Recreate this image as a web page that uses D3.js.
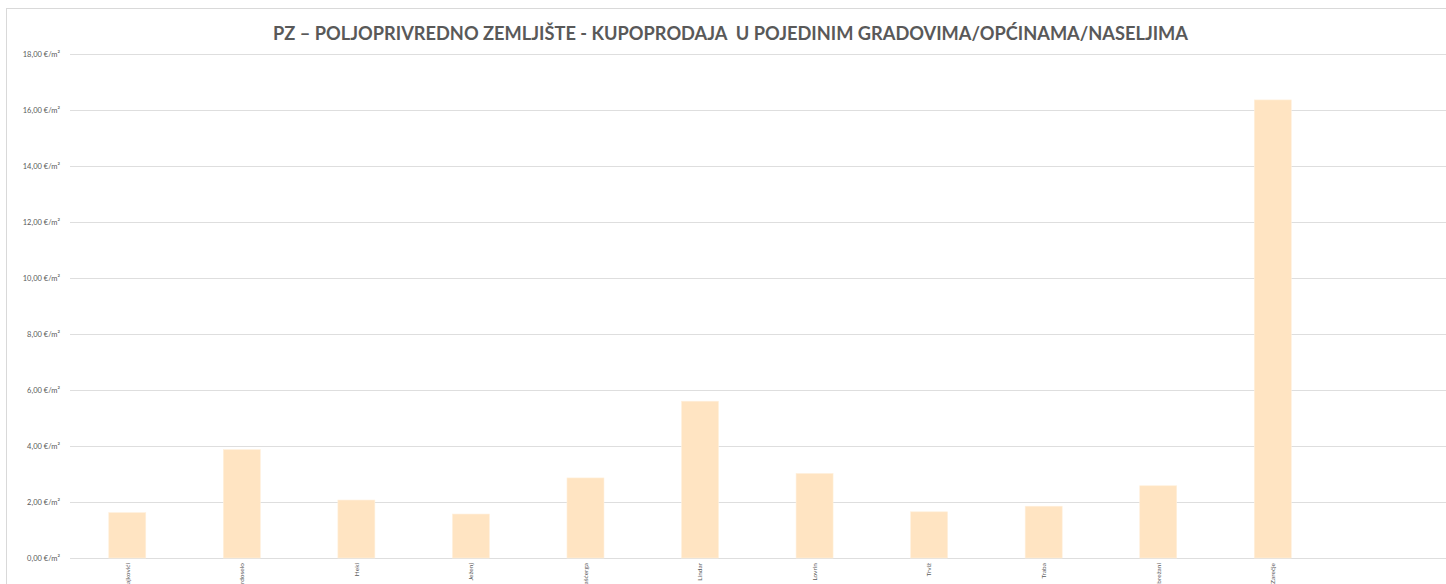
<!DOCTYPE html>
<html>
<head>
<meta charset="utf-8">
<script src="https://cdn.jsdelivr.net/npm/d3@7"></script>
<style>
  html, body { margin: 0; padding: 0; background: #fff; }
  svg { display: block; font-family: Lato, "Open Sans", "Liberation Sans", sans-serif; }
</style>
</head>
<body>
<svg id="chart" width="1446" height="584"></svg>
<script>
// settlements around Pazin (labels are cut by the bottom edge, as in the source)
const places = ['Brajkovići', 'Grdoselo', 'Heki', 'Ježenj', 'Kašćerga', 'Lindar',
                'Lovrin', 'Trviž', 'Traba', 'Zabrežani', 'Zarečje'];
// average price, €/m²
const prices = [1.62, 3.87, 2.07, 1.57, 2.86, 5.60, 3.02, 1.65, 1.85, 2.58, 16.36];
const yTicks = [0, 2, 4, 6, 8, 10, 12, 14, 16, 18];
const title = 'PZ – POLJOPRIVREDNO ZEMLJIŠTE - KUPOPRODAJA  U POJEDINIM GRADOVIMA/OPĆINAMA/NASELJIMA';

let svg = d3.select('#chart');
let W = 1446, H = 584;
let plot = { left: 70, top: 54, bottom: 558, step: 114.55 };

// outer chart frame (right and bottom edges fall outside the picture)
svg.append('rect')
    .attr('x', 6.5).attr('y', 8.5)
    .attr('width', 1460).attr('height', 620)
    .attr('fill', '#fff')
    .attr('stroke', '#d9d9d9');

let x = d3.scaleBand()
    .domain(places)
    .range([plot.left, plot.left + plot.step * places.length])
    .paddingInner(0.677)
    .paddingOuter(0.3385);

let y = d3.scaleLinear()
    .domain([0, 18])
    .range([plot.bottom, plot.top]);

let fmt = d => d3.format('.2f')(d).replace('.', ',') + ' €/m²';

// horizontal gridlines + labels
let yAxis = d3.axisLeft(y)
    .tickValues(yTicks)
    .tickSize(-(W - plot.left))
    .tickPadding(10)
    .tickFormat(fmt);

let gy = svg.append('g')
    .attr('transform', `translate(${plot.left},0)`)
    .call(yAxis);
gy.select('.domain').remove();
gy.selectAll('.tick line').attr('stroke', '#dedede').attr('stroke-width', 1);
gy.selectAll('.tick text')
    .attr('fill', '#595959')
    .style('font-size', '7.5px')
    .style('font-family', 'Lato, "Open Sans", sans-serif');

// bars
svg.append('g').selectAll('rect')
    .data(places)
    .join('rect')
        .attr('x', d => x(d))
        .attr('y', (d, i) => y(prices[i]))
        .attr('width', x.bandwidth())
        .attr('height', (d, i) => y(0) - y(prices[i]))
        .attr('fill', '#ffe4c2')
        .attr('stroke', '#fff0dc')
        .attr('stroke-width', 0.6);

// x labels, rotated, hanging from the axis
svg.append('g').selectAll('text')
    .data(places)
    .join('text')
        .attr('transform', d => `translate(${x(d) + x.bandwidth() / 2},563) rotate(-90)`)
        .attr('text-anchor', 'end')
        .attr('dy', '0.35em')
        .attr('fill', '#595959')
        .style('font-size', '6.5px')
        .text(d => d);

// title (keeps the double space of the original)
svg.append('text')
    .attr('x', 730.5)
    .attr('y', 40)
    .attr('text-anchor', 'middle')
    .attr('fill', '#595959')
    .attr('font-weight', 'bold')
    .attr('textLength', 915)
    .attr('lengthAdjust', 'spacingAndGlyphs')
    .style('white-space', 'pre')
    .style('font-size', '19.5px')
    .text(title);
</script>
</body>
</html>
